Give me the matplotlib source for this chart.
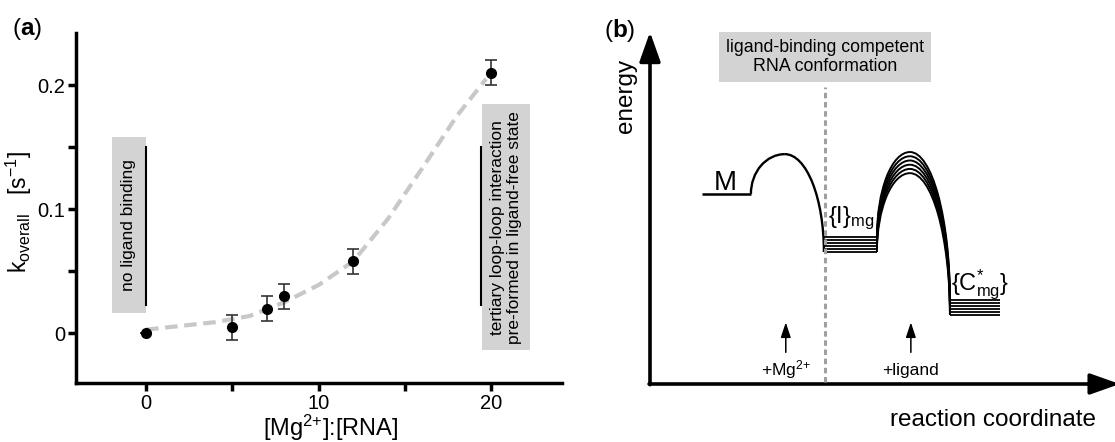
import numpy as np
import matplotlib
matplotlib.use('Agg')
import matplotlib.pyplot as plt
from matplotlib.patches import Rectangle, Arc

plt.rcParams['font.family'] = ['Liberation Sans', 'DejaVu Sans']
plt.rcParams['mathtext.fontset'] = 'custom'
plt.rcParams['mathtext.rm'] = 'Liberation Sans'
plt.rcParams['mathtext.it'] = 'Liberation Sans:italic'
plt.rcParams['mathtext.bf'] = 'Liberation Sans:bold'

## panel (a) data: rate vs Mg2+:RNA ratio
mg_ratio = [0, 5, 7, 8, 12, 20]
k_overall = [0.0, 0.005, 0.020, 0.030, 0.058, 0.210]
k_err = [0.0, 0.010, 0.010, 0.010, 0.010, 0.010]

# dashed fit curve
fit_x = [0, 2, 4, 6, 8, 10, 12, 14, 16, 18, 19.7]
fit_y = [0.003, 0.006, 0.009, 0.014, 0.025, 0.039, 0.058, 0.092, 0.133, 0.175, 0.205]

## panel (b) data: schematic energy landscape (arbitrary units)
m_level = 5.40
m_span = [1.12, 2.17]
peak1 = [2.90, 6.53]
i_levels = [4.18, 4.09, 4.01, 3.92, 3.84, 3.75]
i_span = [3.74, 4.88]
peak2_x = 5.59
peak2_levels = [6.59, 6.47, 6.35, 6.23, 6.11, 5.99]
c_levels = [2.39, 2.30, 2.22, 2.13, 2.05, 1.96]
c_span = [6.45, 7.53]
competent_x = 3.76
mg_arrow_x = 2.92
ligand_arrow_x = 5.61

BOX = '#d3d3d3'
W, H = 1115, 442

fig = plt.figure(figsize=(W / 100, H / 100), dpi=100)

# ---------------- (a) ----------------
ax = fig.add_axes([76 / W, (H - 383) / H, (562 - 76) / W, (383 - 33) / H])
ax.set_xlim(-4.06, 24.1)
ax.set_ylim(-0.040, 0.242)
for s in ['top', 'right']:
    ax.spines[s].set_visible(False)
for s in ['left', 'bottom']:
    ax.spines[s].set_linewidth(2.5)
ax.set_xticks([0, 5, 10, 15, 20])
ax.set_xticklabels(['0', '', '10', '', '20'])
ax.set_yticks([0, 0.05, 0.1, 0.15, 0.2])
ax.set_yticklabels(['0', '', '0.1', '', '0.2'])
ax.tick_params(direction='out', length=6, width=2.5, labelsize=14.5, pad=2)

ax.plot(fit_x, fit_y, color='#c8c8c8', lw=3, dashes=(3, 1.6), zorder=1)
ax.errorbar(mg_ratio, k_overall, yerr=k_err, fmt='o', color='black', ms=7,
            ecolor='#333333', elinewidth=1.2, capsize=4, capthick=1.2, zorder=3)

# annotation boxes
ax.add_patch(Rectangle((-1.97, 0.016), 1.94, 0.142, facecolor=BOX, edgecolor='none', zorder=0))
ax.plot([0, 0], [0.0225, 0.15], color='black', lw=1.5)
ax.text(-1.0, 0.087, 'no ligand binding', rotation=90, ha='center', va='center', fontsize=12.5)

ax.add_patch(Rectangle((19.48, -0.0137), 2.78, 0.1987, facecolor=BOX, edgecolor='none', zorder=0))
ax.plot([19.4, 19.4], [0.0225, 0.15], color='black', lw=1.5)
ax.text(20.87, 0.085, 'tertiary loop-loop interaction\npre-formed in ligand-free state',
        rotation=90, ha='center', va='center', multialignment='center', fontsize=12.5,
        linespacing=1.15)

ax.set_xlabel(r'[Mg$^{\mathregular{2{+}}}$]:[RNA]', fontsize=17, va='center')
ax.xaxis.set_label_coords(0.525, -0.128)
ax.set_ylabel(r'k$_{\mathregular{overall}}$   [s$^{\mathregular{-1}}$]', fontsize=16.5, va='center')
ax.yaxis.set_label_coords(-0.118, 0.49)
fig.text(12 / W, 1 - 29 / H, r'($\mathbf{a}$)', fontsize=17.5, ha='left', va='center')

# ---------------- (b) ----------------
bx = fig.add_axes([650 / W, (H - 384) / H, (W - 650) / W, (384 - 32) / H])
bx.set_xlim(0, 10)
bx.set_ylim(0, 10)
bx.axis('off')

big = dict(arrowstyle='-|>,head_length=0.9,head_width=0.32', lw=2.6, color='black',
           shrinkA=0, shrinkB=0, mutation_scale=20)
bx.annotate('', xy=(0, 10), xytext=(0, -0.02), arrowprops=big, annotation_clip=False)
bx.annotate('', xy=(10.1, 0), xytext=(-0.02, 0), arrowprops=big, annotation_clip=False)

# M state and first barrier
bx.plot(m_span, [m_level, m_level], color='black', lw=1.8, solid_capstyle='butt')
px, pe = peak1
bx.add_patch(Arc((px, m_level), 2 * (px - m_span[1]), 2 * (pe - m_level),
                 theta1=90, theta2=180, lw=1.7, color='black'))
bx.add_patch(Arc((px, i_levels[-1]), 2 * (i_span[0] - px), 2 * (pe - i_levels[-1]),
                 theta1=0, theta2=90, lw=1.7, color='black'))

# intermediate ensemble, second barrier, final ensemble
for ei, ep, ec in zip(i_levels, peak2_levels, c_levels):
    bx.plot(i_span, [ei, ei], color='black', lw=1.3, solid_capstyle='butt')
    bx.plot(c_span, [ec, ec], color='black', lw=1.3, solid_capstyle='butt')
    bx.add_patch(Arc((peak2_x, ei), 2 * (peak2_x - i_span[1]), 2 * (ep - ei),
                     theta1=90, theta2=180, lw=1.4, color='black'))
    bx.add_patch(Arc((peak2_x, ec), 2 * (c_span[0] - peak2_x), 2 * (ep - ec),
                     theta1=0, theta2=90, lw=1.4, color='black'))

bx.plot([competent_x, competent_x], [0.05, 8.44], color='#a0a0a0', lw=2.2,
        dashes=(1.8, 1.2), zorder=3)
bx.text(competent_x, 9.29, 'ligand-binding competent\nRNA conformation', ha='center',
        va='center', fontsize=12.8, linespacing=1.2,
        bbox=dict(boxstyle='square,pad=0.4', facecolor=BOX, edgecolor='none'))

small = dict(arrowstyle='-|>,head_length=0.45,head_width=0.15', lw=1.1, color='black',
             shrinkA=0, shrinkB=0, mutation_scale=20)
for xa in [mg_arrow_x, ligand_arrow_x]:
    bx.annotate('', xy=(xa, 1.75), xytext=(xa, 0.9), arrowprops=small)
bx.text(mg_arrow_x, 0.40, r'+Mg$^{\mathregular{2{+}}}$', ha='center', va='center', fontsize=12.5)
bx.text(ligand_arrow_x, 0.37, '+ligand', ha='center', va='center', fontsize=12.5)

bx.text(1.61, 5.72, 'M', ha='center', va='center', fontsize=20)
bx.text(3.83, 4.72, r'{I}$_{\mathregular{mg}}$', ha='left', va='center', fontsize=17)
bx.text(6.47, 2.81, r'{C$^{*}_{\mathregular{mg}}$}', ha='left', va='center', fontsize=17)

bx.text(-0.52, 8.18, 'energy', rotation=90, ha='center', va='center', fontsize=17.5, clip_on=False)
bx.text(7.38, -1.02, 'reaction coordinate', ha='center', va='center', fontsize=17.5, clip_on=False)
fig.text(604 / W, 1 - 30 / H, r'($\mathbf{b}$)', fontsize=17.5, ha='left', va='center')

fig.savefig('out.png', dpi=100)
